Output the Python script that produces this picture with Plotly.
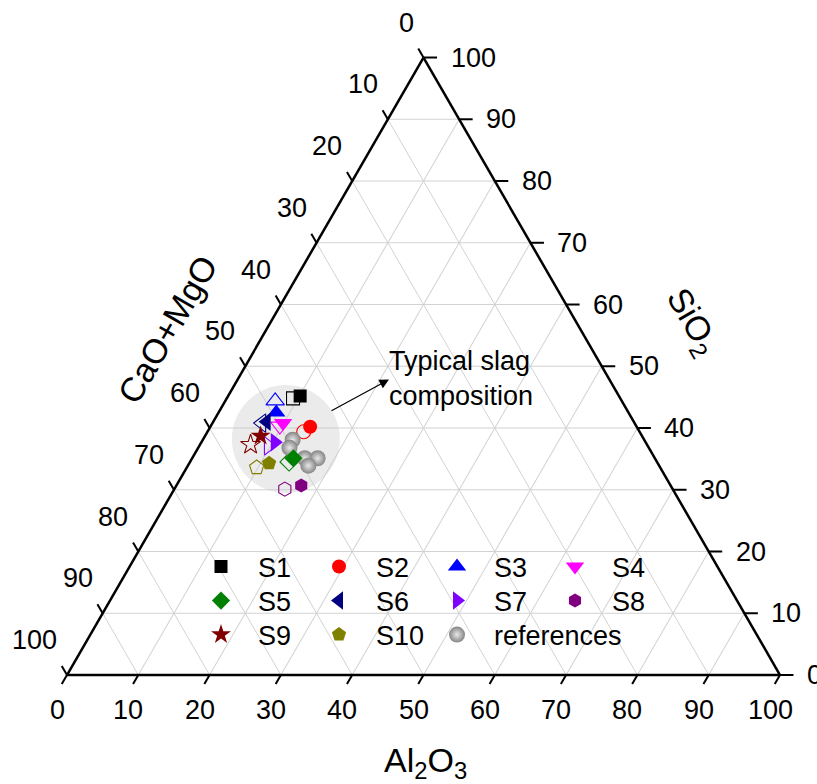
import math
import plotly.graph_objects as go

# ---------------- data (wt%) ----------------
series_names = ["S1", "S2", "S3", "S4", "S5", "S6", "S7", "S8", "S9", "S10"]
series_colors = ["#000000", "#FF0000", "#0000FF", "#FF00FF", "#008000",
                 "#000080", "#8000FF", "#800080", "#800000", "#808000"]
series_symbols = ["square", "circle", "triangle-up", "triangle-down", "diamond",
                  "triangle-left", "triangle-right", "hexagon", "star", "pentagon"]
series_sizes = [13, 14, 16, 16, 14, 16, 16, 14, 15, 15]

# filled markers
filled_sio2 = [45.2, 40.2, 42.5, 40.8, 35.1, 41.0, 37.7, 30.7, 38.7, 34.3]
filled_cao_mgo = [44.7, 45.8, 49.4, 49.3, 50.7, 51.5, 52.0, 51.8, 53.5, 54.5]
filled_al2o3 = [10.1, 14.0, 8.1, 9.9, 14.2, 7.5, 10.3, 17.5, 7.8, 11.2]

# open markers
open_sio2 = [44.8, 39.4, 44.4, 40.3, 34.5, 40.8, 37.1, 30.1, 37.3, 33.6]
open_cao_mgo = [45.9, 47.1, 48.6, 50.0, 51.6, 52.3, 53.2, 54.4, 55.6, 56.6]
open_al2o3 = [9.3, 13.5, 7.0, 9.7, 13.9, 6.9, 9.7, 15.5, 7.1, 9.8]

# literature references
ref_sio2 = [38.1, 36.8, 35.1, 35.1, 33.9]
ref_cao_mgo = [49.3, 50.4, 49.1, 47.3, 49.2]
ref_al2o3 = [12.6, 12.8, 15.8, 17.6, 16.9]

# "typical slag composition" highlight
highlight_sio2 = [38.2]
highlight_cao_mgo = [50.2]
highlight_al2o3 = [11.6]

tick_values = list(range(0, 101, 10))
tick_labels = [str(v) for v in tick_values]

# ---------------- geometry ----------------
W, H = 817, 784
BLX, BLY = 67, 675          # bottom-left vertex (px)
SIDE = 713                  # triangle side (px)
PX = SIDE / 100.0           # px per ternary unit
R3 = math.sqrt(3) / 2
FONT = "Liberation Sans, Arial, sans-serif"
FS = 27


def cart(a, b, c):
    s = a + b + c
    a, b, c = 100 * a / s, 100 * b / s, 100 * c / s
    return c + a / 2, a * R3


fig = go.Figure()

# highlight circle
fig.add_trace(go.Scatterternary(
    a=highlight_sio2, b=highlight_cao_mgo, c=highlight_al2o3, mode="markers",
    marker=dict(size=108, color="rgba(200,200,200,0.36)", line=dict(width=0)),
    showlegend=False, hoverinfo="skip"))

# open markers
for i, name in enumerate(series_names):
    fig.add_trace(go.Scatterternary(
        a=[open_sio2[i]], b=[open_cao_mgo[i]], c=[open_al2o3[i]], mode="markers",
        marker=dict(symbol=series_symbols[i] + "-open", size=series_sizes[i],
                    color=series_colors[i],
                    line=dict(width=1.1, color=series_colors[i])),
        showlegend=False, hoverinfo="skip"))

# references
fig.add_trace(go.Scatterternary(
    a=ref_sio2, b=ref_cao_mgo, c=ref_al2o3, mode="markers", name="references",
    marker=dict(symbol="circle", size=16, color="#858585",
                gradient=dict(type="radial", color="#e8e8e8"),
                line=dict(width=0)),
    legend="legend3", legendrank=3000, legendwidth=150))

# filled markers
for i, name in enumerate(series_names):
    fig.add_trace(go.Scatterternary(
        a=[filled_sio2[i]], b=[filled_cao_mgo[i]], c=[filled_al2o3[i]], mode="markers",
        name=name,
        marker=dict(symbol=series_symbols[i], size=series_sizes[i],
                    color=series_colors[i], line=dict(width=0)),
        legend=["legend", "legend2", "legend3"][i // 4], legendrank=1000 + i))

# ---------------- ticks (own orientation) ----------------
tx, ty = [], []
Lt = 10.5 / PX
Lr = 13.5 / PX
for v in tick_values:
    # left edge: CaO+MgO = v
    x, y = cart(100 - v, v, 0)
    tx += [x, x - 0.5 * Lt, None]; ty += [y, y + R3 * Lt, None]
    # bottom edge: Al2O3 = v
    x, y = cart(0, 100 - v, v)
    tx += [x, x - 0.5 * Lt, None]; ty += [y, y - R3 * Lt, None]
    # right edge: SiO2 = v
    x, y = cart(v, 0, 100 - v)
    tx += [x, x + Lr, None]; ty += [y, y, None]
fig.add_trace(go.Scatter(x=tx, y=ty, mode="lines", line=dict(color="black", width=2),
                         showlegend=False, hoverinfo="skip", xaxis="x", yaxis="y"))

annotations = []
for v, lab in zip(tick_values, tick_labels):
    x, y = cart(100 - v, v, 0)
    annotations.append(dict(x=x, y=y, xref="x", yref="y", text=lab, showarrow=False,
                            xanchor="right", yanchor="middle", xshift=-8, yshift=35,
                            font=dict(size=FS, color="black", family=FONT)))
    x, y = cart(0, 100 - v, v)
    annotations.append(dict(x=x, y=y, xref="x", yref="y", text=lab, showarrow=False,
                            xanchor="center", yanchor="middle", xshift=-10, yshift=-35,
                            font=dict(size=FS, color="black", family=FONT)))
    x, y = cart(v, 0, 100 - v)
    annotations.append(dict(x=x, y=y, xref="x", yref="y", text=lab, showarrow=False,
                            xanchor="left", yanchor="middle", xshift=25, yshift=0,
                            font=dict(size=FS, color="black", family=FONT)))

# axis titles
annotations.append(dict(x=167 / W, y=1 - 330 / H, xref="paper", yref="paper",
                        text="CaO+MgO", textangle=-60, showarrow=False,
                        xanchor="center", yanchor="middle",
                        font=dict(size=34, color="black", family=FONT)))
annotations.append(dict(x=692 / W, y=1 - 322 / H, xref="paper", yref="paper",
                        text="SiO<sub>2</sub>", textangle=60, showarrow=False,
                        xanchor="center", yanchor="middle",
                        font=dict(size=34, color="black", family=FONT)))
annotations.append(dict(x=425 / W, y=1 - 762 / H, xref="paper", yref="paper",
                        text="Al<sub>2</sub>O<sub>3</sub>", showarrow=False,
                        xanchor="center", yanchor="middle",
                        font=dict(size=34, color="black", family=FONT)))

# typical slag label + arrow
annotations.append(dict(x=387 / W, y=1 - 378 / H, xref="paper", yref="paper",
                        text="Typical slag<br>composition", showarrow=False, align="left",
                        xanchor="left", yanchor="middle",
                        font=dict(size=FS, color="black", family=FONT)))
annotations.append(dict(x=389 / W, y=1 - 379.5 / H, xref="paper", yref="paper", text="",
                        showarrow=True, ax=-59, ay=32, arrowhead=2, arrowsize=1.6,
                        arrowwidth=1.2, arrowcolor="black", standoff=0))

axis_common = dict(min=0, tickmode="linear", tick0=0, dtick=10, ticks="",
                   showticklabels=False, showline=True, linecolor="black", linewidth=2.5,
                   showgrid=True, gridcolor="#d2d2d2", gridwidth=1, title=dict(text=""))

legend_common = dict(orientation="h", xanchor="left", yanchor="middle",
                     entrywidth=39, entrywidthmode="pixels", itemwidth=64,
                     bgcolor="rgba(0,0,0,0)", borderwidth=0, traceorder="normal",
                     font=dict(size=FS, color="black", family=FONT))

fig.update_layout(
    width=W, height=H, margin=dict(l=0, r=0, t=0, b=0),
    paper_bgcolor="white", plot_bgcolor="rgba(0,0,0,0)",
    font=dict(family=FONT, color="black"),
    hovermode=False,
    ternary=dict(
        sum=100,
        domain=dict(x=[BLX / W, (BLX + SIDE) / W],
                    y=[(H - BLY) / H, (H - BLY + SIDE * R3) / H]),
        bgcolor="rgba(0,0,0,0)",
        aaxis=axis_common, baxis=axis_common, caxis=axis_common),
    xaxis=dict(domain=[0, 1], range=[-BLX / PX, (W - BLX) / PX], visible=False,
               fixedrange=True),
    yaxis=dict(domain=[0, 1], range=[(BLY - H) / PX, BLY / PX], visible=False,
               fixedrange=True),
    legend=dict(x=184 / W, y=1 - 567 / H, **legend_common),
    legend2=dict(x=184 / W, y=1 - 601 / H, **legend_common),
    legend3=dict(x=184 / W, y=1 - 635 / H, **legend_common),
    annotations=annotations,
)

fig.write_html("out.html")
